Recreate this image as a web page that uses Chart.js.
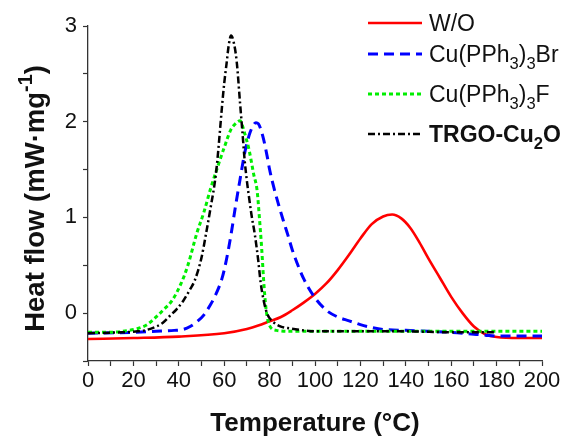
<!DOCTYPE html>
<html>
<head>
<meta charset="utf-8">
<script src="https://cdn.jsdelivr.net/npm/chart.js@4.4.0/dist/chart.umd.min.js"></script>
<style>
html,body{margin:0;padding:0;background:#fff;}
#wrap{width:574px;height:436px;position:relative;}
canvas{display:block;}
</style>
</head>
<body>
<div id="wrap"><canvas id="c" width="574" height="436" style="width:574px;height:436px"></canvas></div>
<script>
// ---- data ----
const seriesNames = ['W/O', 'Cu(PPh_{3})_{3}Br', 'Cu(PPh_{3})_{3}F', 'TRGO-Cu_{2}O'];

const tempWO = [0,20,40,60,70,75,80,85,90,95,100,105,110,115,120,125,130,134,138,142,146,150,155,160,165,170,175,180,190,200];
const flowWO = [-0.27,-0.26,-0.245,-0.21,-0.165,-0.13,-0.085,-0.04,0.03,0.11,0.2,0.31,0.45,0.61,0.78,0.93,1.01,1.03,0.99,0.89,0.74,0.57,0.37,0.17,0.0,-0.14,-0.22,-0.25,-0.26,-0.26];

const tempBr = [0,20,30,38,42,45,48,51,54,56,59,61,63,65,67,69,71,73,74,75,77,79,80,82,84,86,88,90,92,95,100,105,110,115,120,125,130,140,150,160,170,175,180,190,200];
const flowBr = [-0.21,-0.2,-0.19,-0.18,-0.17,-0.14,-0.09,-0.02,0.09,0.18,0.36,0.56,0.82,1.12,1.4,1.67,1.86,1.97,1.99,1.98,1.85,1.63,1.5,1.3,1.13,0.97,0.82,0.66,0.53,0.36,0.16,0.03,-0.04,-0.08,-0.12,-0.15,-0.17,-0.18,-0.19,-0.2,-0.22,-0.23,-0.24,-0.24,-0.24];

const tempF = [0,10,18,22,26,30,33,37,41,44,48,51,54,57,60,63,65,67,69,71,73,74.5,75.5,76.5,77.5,78.5,80,83,90,100,120,140,160,180,200];
const flowF = [-0.2,-0.2,-0.18,-0.16,-0.12,-0.04,0.03,0.13,0.31,0.5,0.84,1.05,1.3,1.52,1.73,1.92,1.98,2.01,1.88,1.7,1.45,1.28,1.0,0.68,0.3,0.03,-0.13,-0.18,-0.19,-0.19,-0.19,-0.19,-0.19,-0.19,-0.19];

const tempTR = [0,15,22,25,30,33,36,39,42,45,47,50,52,54,56,57,58,59,60,61,62,63,64,65.5,67,68,69,70,71,72,73.5,75,76,77.5,79,81.5,85,89,95,100,120,140,160,180];
const flowTR = [-0.21,-0.2,-0.19,-0.18,-0.14,-0.1,-0.03,0.04,0.13,0.25,0.34,0.58,0.83,1.1,1.39,1.6,1.87,2.15,2.4,2.6,2.8,2.9,2.85,2.63,2.19,1.9,1.6,1.38,1.2,1.03,0.82,0.55,0.33,0.12,-0.01,-0.09,-0.14,-0.16,-0.18,-0.19,-0.19,-0.19,-0.2,-0.2];

const xLabelValues = [0,20,40,60,80,100,120,140,160,180,200];
const yLabelValues = [0,1,2,3];
const xTitle = 'Temperature (°C)';
const yTitle = 'Heat flow (mW·mg^{-1})';

// ---- styles ----
const FONT = '"Liberation Sans", Arial, Helvetica, sans-serif';
const TXT = '#111';
const colors = ['#ff0000', '#0000ff', '#00ee00', '#000000'];
const dashes = [[], [10, 6], [4, 3], [7, 3, 2, 3]];
const widths = [2.6, 3, 3, 2.5];

function pts(xs, ys) { return xs.map((x, i) => ({ x: x, y: ys[i] })); }

function parseRich(s) {
  const parts = []; const re = /(_|\^)\{([^}]*)\}/g; let last = 0, m;
  while ((m = re.exec(s))) {
    if (m.index > last) parts.push({ t: s.slice(last, m.index), k: 0 });
    parts.push({ t: m[2], k: m[1] === '_' ? 1 : -1 });
    last = re.lastIndex;
  }
  if (last < s.length) parts.push({ t: s.slice(last), k: 0 });
  return parts;
}
function setFont(ctx, size, bold) { ctx.font = (bold ? 'bold ' : '') + size + 'px ' + FONT; }
function richWidth(ctx, parts, size, bold) {
  let w = 0;
  parts.forEach(p => { setFont(ctx, p.k ? size * 0.72 : size, bold); w += ctx.measureText(p.t).width; });
  return w;
}
function drawRich(ctx, parts, x, y, size, bold) {
  parts.forEach(p => {
    const s = p.k ? size * 0.72 : size;
    const dy = p.k === 1 ? size * 0.32 : (p.k === -1 ? -size * 0.42 : 0);
    setFont(ctx, s, bold);
    ctx.fillText(p.t, x, y + dy);
    x += ctx.measureText(p.t).width;
  });
}

const annot = {
  id: 'annot',
  afterDraw(chart) {
    const ctx = chart.ctx;
    ctx.save();
    ctx.fillStyle = TXT;
    ctx.textBaseline = 'alphabetic';
    ctx.textAlign = 'left';
    // x title
    const xs = chart.scales.x;
    const xp = parseRich(xTitle);
    const xw = richWidth(ctx, xp, 26, true);
    drawRich(ctx, xp, (xs.left + xs.right) / 2 - xw / 2, 431, 26, true);
    // y title
    const ys = chart.scales.y;
    const yp = parseRich(yTitle);
    const yw = richWidth(ctx, yp, 27.5, true);
    ctx.save();
    ctx.translate(44, (ys.top + ys.bottom) / 2 + 5);
    ctx.rotate(-Math.PI / 2);
    drawRich(ctx, yp, -yw / 2, 0, 27.5, true);
    ctx.restore();
    // legend
    const rowsY = [23, 54, 94, 134];
    seriesNames.forEach((name, i) => {
      const y = rowsY[i];
      ctx.save();
      ctx.strokeStyle = colors[i];
      ctx.lineWidth = widths[i];
      ctx.setLineDash(dashes[i]);
      ctx.beginPath();
      ctx.moveTo(368, y);
      ctx.lineTo(422, y);
      ctx.stroke();
      ctx.restore();
      ctx.fillStyle = TXT;
      drawRich(ctx, parseRich(name), 429, y + 8, 23, i === 3);
    });
    ctx.restore();
  }
};

const datasets = [
  [tempWO, flowWO], [tempBr, flowBr], [tempF, flowF], [tempTR, flowTR]
].map((d, i) => ({
  label: seriesNames[i],
  data: pts(d[0], d[1]),
  borderColor: colors[i],
  backgroundColor: colors[i],
  borderWidth: widths[i],
  borderDash: dashes[i],
  pointRadius: 0,
  fill: false,
  cubicInterpolationMode: 'monotone',
  order: 3 - i
}));

new Chart(document.getElementById('c'), {
  type: 'line',
  data: { datasets: datasets },
  options: {
    responsive: false,
    devicePixelRatio: 1,
    animation: false,
    layout: { padding: { left: 0, top: 26, right: 32, bottom: 0 } },
    plugins: { legend: { display: false }, tooltip: { enabled: false } },
    scales: {
      x: {
        type: 'linear', min: 0, max: 200,
        afterFit(s) { s.height = 75; },
        ticks: {
          stepSize: 10, autoSkip: false, maxRotation: 0, padding: 2,
          color: TXT, font: { family: FONT, size: 22 },
          callback: v => xLabelValues.includes(v) ? String(v) : ''
        },
        grid: { drawOnChartArea: false, drawTicks: true, tickLength: 5, tickColor: '#333', tickWidth: 1.2 },
        border: { display: true, color: '#333', width: 1.3 }
      },
      y: {
        type: 'linear', min: -0.5, max: 3,
        afterFit(s) { s.width = 88; },
        ticks: {
          stepSize: 0.5, autoSkip: false, padding: 6,
          color: TXT, font: { family: FONT, size: 22 },
          callback: v => yLabelValues.includes(v) ? String(v) : ''
        },
        grid: { drawOnChartArea: false, drawTicks: true, tickLength: 5, tickColor: '#333', tickWidth: 1.2 },
        border: { display: true, color: '#333', width: 1.3 }
      }
    }
  },
  plugins: [annot]
});
</script>
</body>
</html>
